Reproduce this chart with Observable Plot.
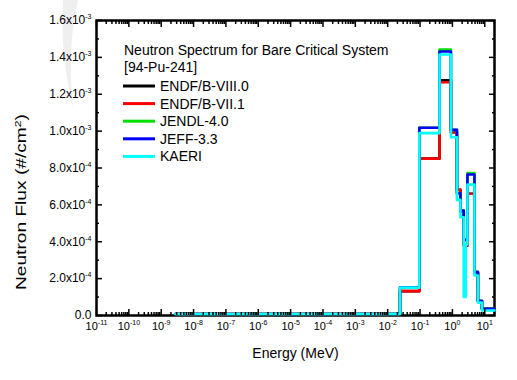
<!DOCTYPE html>
<html><head><meta charset="utf-8">
<script src="https://cdn.jsdelivr.net/npm/d3@7"></script>
<script src="https://cdn.jsdelivr.net/npm/@observablehq/plot@0.6"></script>
<style>
html,body{margin:0;padding:0;background:#fff;}
#chart{width:517px;height:380px;}
</style></head><body><div id="chart"></div>
<script>
// Energy group edges (MeV)
const edges = [2.75e-9, 0.024, 0.095, 0.4, 0.9, 1.38, 1.77, 2.24, 2.57, 2.92, 4.8, 6.15, 8.2, 20];
const seriesNames = ["ENDF/B-VIII.0", "ENDF/B-VII.1", "JENDL-4.0", "JEFF-3.3", "KAERI"];
const seriesColors = ["#000000", "#ff0000", "#00e000", "#0000ff", "#00ffff"];
// Flux per group (#/cm^2)
const fluxENDF80 = [8e-6, 1.32e-4, 8.51e-4, 1.275e-3, 9.94e-4, 6.82e-4, 5.65e-4, 3.8e-4, 3.8e-4, 6.6e-4, 2.35e-4, 7.9e-5, 3.6e-5];
const fluxENDF71 = [8e-6, 1.32e-4, 8.51e-4, 1.265e-3, 9.94e-4, 6.82e-4, 5.65e-4, 3.8e-4, 3.8e-4, 6.6e-4, 2.35e-4, 7.9e-5, 3.6e-5];
const fluxJENDL  = [8e-6, 1.535e-4, 1.018e-3, 1.442e-3, 1.007e-3, 6.63e-4, 5.69e-4, 4.1e-4, 4.1e-4, 7.73e-4, 2.35e-4, 7.9e-5, 3.6e-5];
const fluxJEFF   = [8e-6, 1.535e-4, 1.018e-3, 1.432e-3, 1.007e-3, 6.63e-4, 5.69e-4, 4.1e-4, 4.1e-4, 7.65e-4, 2.35e-4, 7.9e-5, 3.6e-5];
const fluxKAERI  = [8e-6, 1.51e-4, 9.89e-4, 1.416e-3, 9.67e-4, 6.27e-4, 5.33e-4, 1.0e-4, 3.85e-4, 7.1e-4, 2.17e-4, 7.0e-5, 2.7e-5];
const seriesValues = [fluxENDF80, fluxENDF71, fluxJENDL, fluxJEFF, fluxKAERI];

const xTickExponents = [-11, -10, -9, -8, -7, -6, -5, -4, -3, -2, -1, 0, 1];
const yTicks = [0, 2e-4, 4e-4, 6e-4, 8e-4, 1.0e-3, 1.2e-3, 1.4e-3, 1.6e-3];
const yMinorTicks = [1e-4, 3e-4, 5e-4, 7e-4, 9e-4, 1.1e-3, 1.3e-3, 1.5e-3];
const legendTitle = ["Neutron Spectrum for Bare Critical System", "[94-Pu-241]"];
const xTitle = "Energy (MeV)";
const yTitle = "Neutron Flux (#/cm^2)";

const xMajor = xTickExponents.map(e => Math.pow(10, e));
const xMinor = [];
xTickExponents.forEach(e => { for (let m = 2; m <= 9; m++) { const v = m * Math.pow(10, e); if (v <= 20) xMinor.push(v); } });

const rows = [];
seriesNames.forEach((s, k) => {
  const vals = seriesValues[k];
  vals.forEach((v, i) => rows.push({s, e: edges[i], v}));
  rows.push({s, e: edges[edges.length - 1], v: vals[vals.length - 1]});
});

const xfmt = d => `10^${Math.round(Math.log10(d))}`;
const yfmt = d => {
  if (d === 0) return "0.0";
  const e = Math.floor(Math.log10(d) + 1e-9);
  return `${(d / Math.pow(10, e)).toFixed(1)}x10^${e}`;
};
const blank = () => "";

const plot = Plot.plot({
  width: 517, height: 380,
  marginLeft: 96, marginRight: 23, marginTop: 20, marginBottom: 65,
  style: {fontFamily: "Arial, 'Liberation Sans', sans-serif", fontSize: "12px", background: "#fff", color: "#000"},
  x: {type: "log", domain: [1e-11, 20]},
  y: {domain: [0, 1.6e-3]},
  color: {domain: seriesNames, range: seriesColors},
  marks: [
    Plot.frame({stroke: "#000", strokeWidth: 2.5}),
    Plot.line(rows, {x: "e", y: "v", z: "s", stroke: "s", curve: "step-after", strokeWidth: 2.6}),
    Plot.axisX(xMajor, {anchor: "bottom", tickSize: -6, tickPadding: 13, tickFormat: xfmt, label: null, strokeWidth: 1.5, fontSize: 11}),
    Plot.axisX(xMinor, {anchor: "bottom", tickSize: -3, tickFormat: blank, label: null, strokeWidth: 1.5}),
    Plot.axisX(xMajor, {anchor: "top", tickSize: -6, tickFormat: blank, label: null, strokeWidth: 1.5}),
    Plot.axisX(xMinor, {anchor: "top", tickSize: -3, tickFormat: blank, label: null, strokeWidth: 1.5}),
    Plot.axisY(yTicks, {anchor: "left", tickSize: -6, tickPadding: 11, tickFormat: yfmt, label: null, strokeWidth: 1.5}),
    Plot.axisY(yMinorTicks, {anchor: "left", tickSize: -3, tickFormat: blank, label: null, strokeWidth: 1.5}),
    Plot.axisY(yTicks, {anchor: "right", tickSize: -6, tickFormat: blank, label: null, strokeWidth: 1.5}),
    Plot.axisY(yMinorTicks, {anchor: "right", tickSize: -3, tickFormat: blank, label: null, strokeWidth: 1.5}),
    Plot.text([xTitle], {frameAnchor: "bottom", dy: 38, fontSize: 14, lineAnchor: "middle"})
  ]
});

document.getElementById("chart").appendChild(plot);
const svg = d3.select(plot);

// faint gray swoosh artifact behind everything
svg.insert("path", ":first-child")
  .attr("d", "M63,0 L78,0 Q67,45 73,108 Q60,55 63,0 Z")
  .attr("fill", "#efefef");

// y-axis title (stretched along its length as in the reference)
svg.append("text")
  .attr("transform", "translate(26,290) rotate(-90)")
  .attr("text-anchor", "start")
  .attr("font-size", 14)
  .attr("fill", "#000")
  .text(yTitle);

// superscripts
svg.selectAll("text").each(function() {
  const t = this.textContent;
  const m = t.match(/^(.*?)\^(-?\d+)(.*)$/);
  if (!m) return;
  const sel = d3.select(this);
  sel.text(null);
  sel.append("tspan").text(m[1]);
  sel.append("tspan").attr("font-size", t === yTitle ? 9 : 7).attr("dy", -5).text(m[2]);
  if (m[3]) sel.append("tspan").attr("dy", 5).text(m[3]);
  if (t === yTitle) {
    sel.attr("textLength", 176).attr("lengthAdjust", "spacingAndGlyphs");
  }
});

// legend
const lg = svg.append("g").attr("font-size", 14).attr("fill", "#000").attr("text-anchor", "start");
lg.append("text").attr("x", 124).attr("y", 55).text(legendTitle[0]);
lg.append("text").attr("x", 124).attr("y", 72).text(legendTitle[1]);
seriesNames.forEach((s, i) => {
  const by = 91 + i * 17.6;
  lg.append("line").attr("x1", 123).attr("x2", 155).attr("y1", by - 5).attr("y2", by - 5)
    .attr("stroke", seriesColors[i]).attr("stroke-width", 3);
  lg.append("text").attr("x", 160).attr("y", by).text(s);
});
</script></body></html>
